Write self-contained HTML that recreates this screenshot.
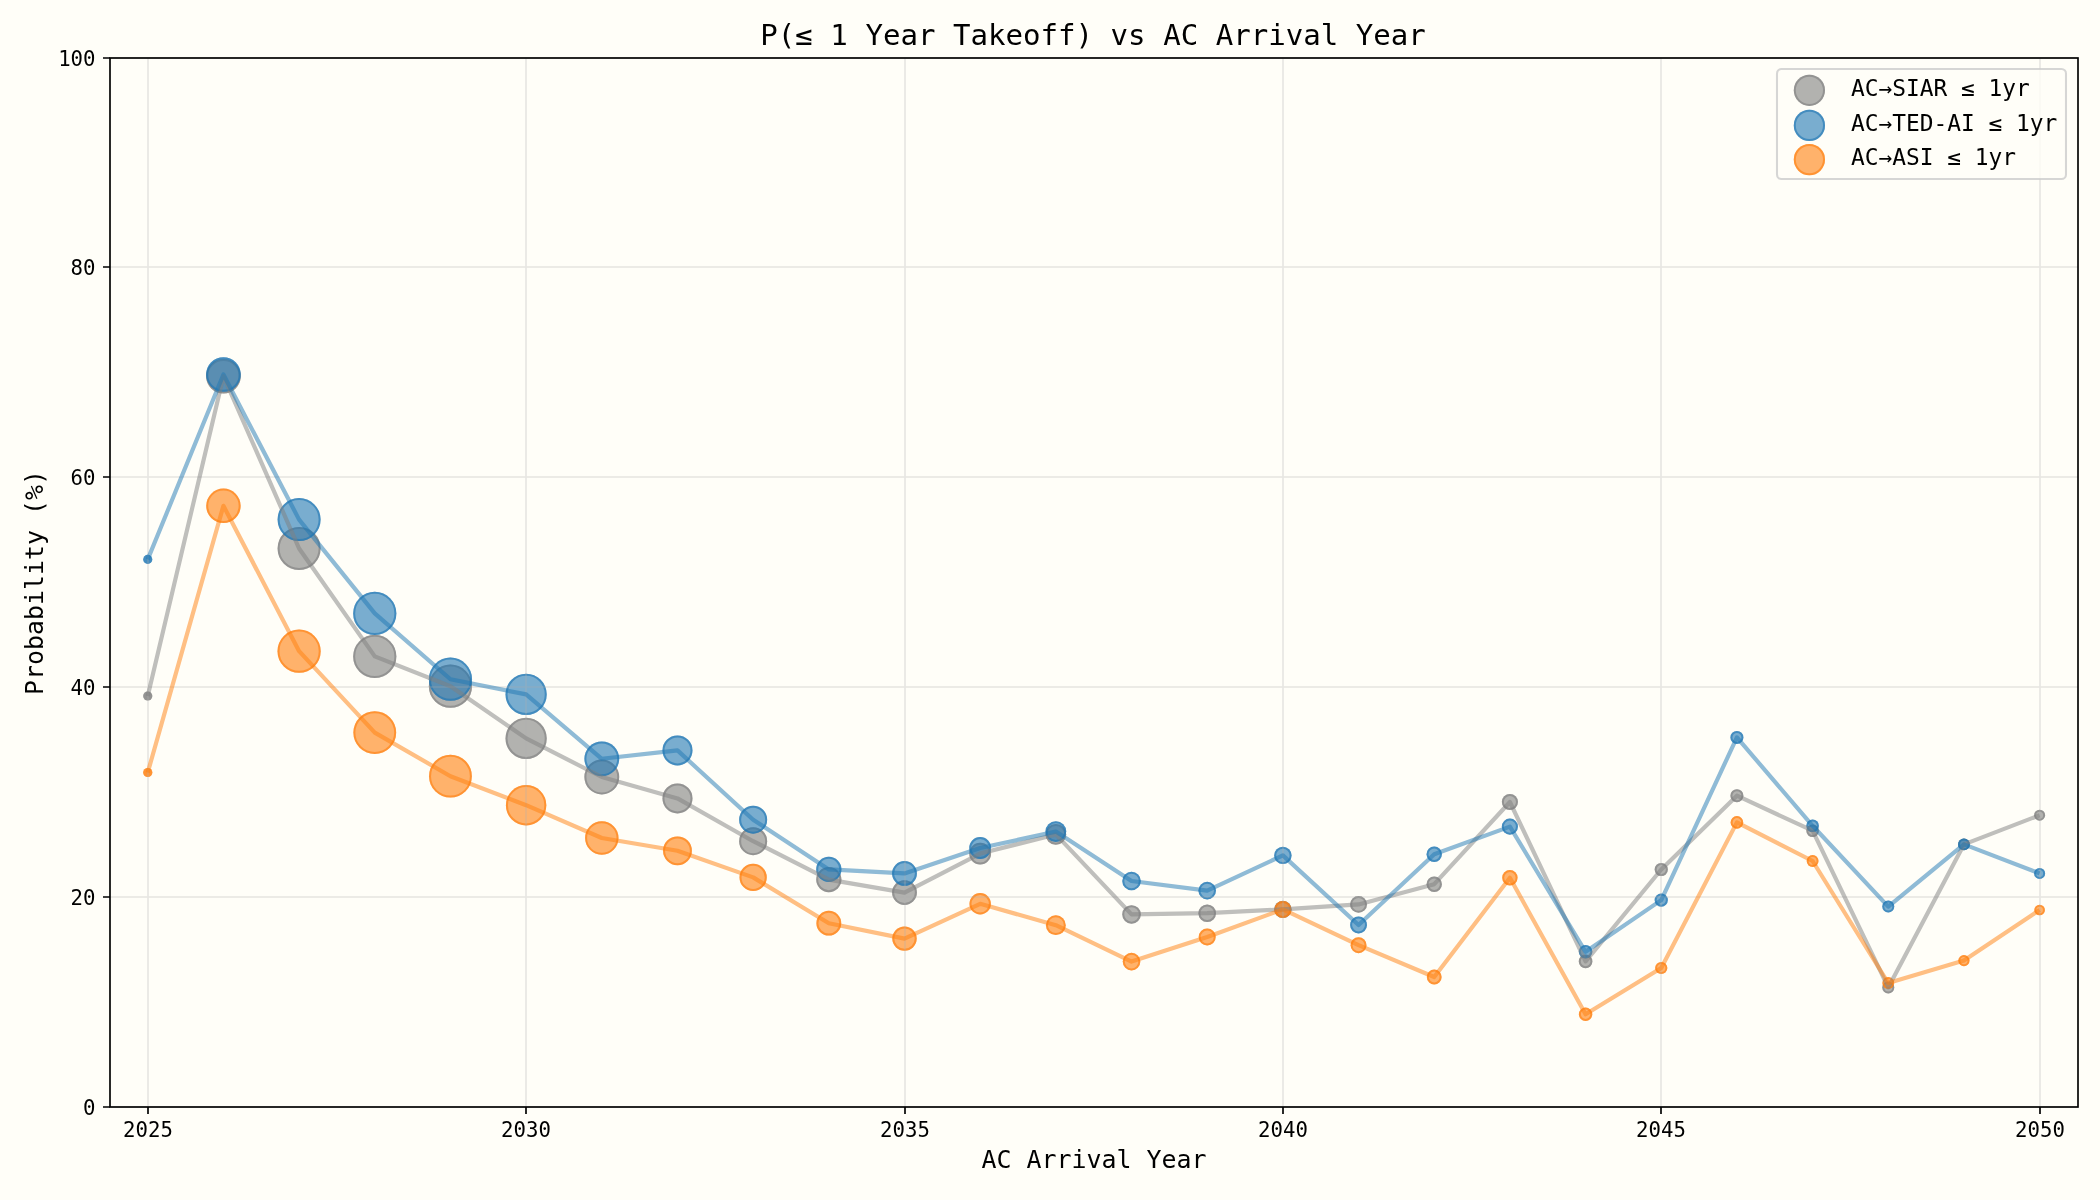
<!DOCTYPE html>
<html lang="en"><head><meta charset="utf-8"><title>P(≤ 1 Year Takeoff) vs AC Arrival Year</title>
<style>html,body{margin:0;padding:0;background:#fffef8;}body{width:2100px;height:1200px;overflow:hidden;}svg{display:block;will-change:transform;}text{font-family:"DejaVu Sans Mono","Liberation Mono",monospace;fill:#000;}</style>
</head><body>
<svg width="2100" height="1200" viewBox="0 0 2100 1200">
<rect x="0" y="0" width="2100" height="1200" fill="#fffef8"/>
<clipPath id="c"><rect x="110.00" y="58.00" width="1968.00" height="1049.00"/></clipPath>
<g clip-path="url(#c)">
<g fill="#7f7f7f" fill-opacity="0.6">
<circle cx="147.75" cy="696.00" r="4.55"/>
<circle cx="223.43" cy="376.20" r="17.30"/>
<circle cx="299.10" cy="548.50" r="21.50"/>
<circle cx="374.77" cy="656.40" r="21.60"/>
<circle cx="450.45" cy="686.20" r="21.60"/>
<circle cx="526.12" cy="738.40" r="20.60"/>
<circle cx="601.80" cy="777.00" r="17.40"/>
<circle cx="677.48" cy="798.40" r="15.00"/>
<circle cx="753.15" cy="841.20" r="14.00"/>
<circle cx="828.82" cy="879.60" r="12.60"/>
<circle cx="904.50" cy="892.60" r="12.40"/>
<circle cx="980.17" cy="853.60" r="10.90"/>
<circle cx="1055.85" cy="834.40" r="10.40"/>
<circle cx="1131.53" cy="914.40" r="9.27"/>
<circle cx="1207.20" cy="913.20" r="8.80"/>
<circle cx="1282.88" cy="909.40" r="8.71"/>
<circle cx="1358.55" cy="904.40" r="8.43"/>
<circle cx="1434.22" cy="884.20" r="7.68"/>
<circle cx="1509.90" cy="802.00" r="8.05"/>
<circle cx="1585.58" cy="961.40" r="6.80"/>
<circle cx="1661.25" cy="869.50" r="6.60"/>
<circle cx="1736.92" cy="795.70" r="6.50"/>
<circle cx="1812.60" cy="830.70" r="6.30"/>
<circle cx="1888.27" cy="987.40" r="6.00"/>
<circle cx="1963.95" cy="844.40" r="5.90"/>
<circle cx="2039.62" cy="815.20" r="5.50"/>
</g>
<g fill="none" stroke="#7f7f7f" stroke-opacity="0.6" stroke-width="2.000">
<circle cx="223.43" cy="376.20" r="16.30"/>
<circle cx="299.10" cy="548.50" r="20.50"/>
<circle cx="374.77" cy="656.40" r="20.60"/>
<circle cx="450.45" cy="686.20" r="20.60"/>
<circle cx="526.12" cy="738.40" r="19.60"/>
<circle cx="601.80" cy="777.00" r="16.40"/>
<circle cx="677.48" cy="798.40" r="14.00"/>
<circle cx="753.15" cy="841.20" r="13.00"/>
<circle cx="828.82" cy="879.60" r="11.60"/>
<circle cx="904.50" cy="892.60" r="11.40"/>
<circle cx="980.17" cy="853.60" r="9.90"/>
<circle cx="1055.85" cy="834.40" r="9.40"/>
<circle cx="1131.53" cy="914.40" r="8.27"/>
<circle cx="1207.20" cy="913.20" r="7.80"/>
<circle cx="1282.88" cy="909.40" r="7.71"/>
<circle cx="1358.55" cy="904.40" r="7.43"/>
<circle cx="1434.22" cy="884.20" r="6.68"/>
<circle cx="1509.90" cy="802.00" r="7.05"/>
<circle cx="1585.58" cy="961.40" r="5.80"/>
<circle cx="1661.25" cy="869.50" r="5.60"/>
<circle cx="1736.92" cy="795.70" r="5.50"/>
<circle cx="1812.60" cy="830.70" r="5.30"/>
<circle cx="1888.27" cy="987.40" r="5.00"/>
<circle cx="1963.95" cy="844.40" r="4.90"/>
<circle cx="2039.62" cy="815.20" r="4.50"/>
</g>
<circle cx="147.75" cy="696.00" r="4.55" fill="#7f7f7f" fill-opacity="0.6"/>
<g fill="#1f77b4" fill-opacity="0.6">
<circle cx="147.75" cy="559.40" r="4.55"/>
<circle cx="223.43" cy="374.50" r="17.30"/>
<circle cx="299.10" cy="519.60" r="21.50"/>
<circle cx="374.77" cy="613.40" r="21.60"/>
<circle cx="450.45" cy="679.20" r="21.60"/>
<circle cx="526.12" cy="694.40" r="20.60"/>
<circle cx="601.80" cy="758.80" r="17.40"/>
<circle cx="677.48" cy="750.40" r="15.00"/>
<circle cx="753.15" cy="819.70" r="14.00"/>
<circle cx="828.82" cy="869.40" r="12.60"/>
<circle cx="904.50" cy="873.40" r="12.40"/>
<circle cx="980.17" cy="848.00" r="10.90"/>
<circle cx="1055.85" cy="831.60" r="10.40"/>
<circle cx="1131.53" cy="881.00" r="9.27"/>
<circle cx="1207.20" cy="890.60" r="8.80"/>
<circle cx="1282.88" cy="855.40" r="8.71"/>
<circle cx="1358.55" cy="925.00" r="8.43"/>
<circle cx="1434.22" cy="854.20" r="7.68"/>
<circle cx="1509.90" cy="826.60" r="8.05"/>
<circle cx="1585.58" cy="951.80" r="6.80"/>
<circle cx="1661.25" cy="900.10" r="6.60"/>
<circle cx="1736.92" cy="737.40" r="6.50"/>
<circle cx="1812.60" cy="825.80" r="6.30"/>
<circle cx="1888.27" cy="906.60" r="6.00"/>
<circle cx="1963.95" cy="844.40" r="5.90"/>
<circle cx="2039.62" cy="873.40" r="5.50"/>
</g>
<g fill="none" stroke="#1f77b4" stroke-opacity="0.6" stroke-width="2.000">
<circle cx="223.43" cy="374.50" r="16.30"/>
<circle cx="299.10" cy="519.60" r="20.50"/>
<circle cx="374.77" cy="613.40" r="20.60"/>
<circle cx="450.45" cy="679.20" r="20.60"/>
<circle cx="526.12" cy="694.40" r="19.60"/>
<circle cx="601.80" cy="758.80" r="16.40"/>
<circle cx="677.48" cy="750.40" r="14.00"/>
<circle cx="753.15" cy="819.70" r="13.00"/>
<circle cx="828.82" cy="869.40" r="11.60"/>
<circle cx="904.50" cy="873.40" r="11.40"/>
<circle cx="980.17" cy="848.00" r="9.90"/>
<circle cx="1055.85" cy="831.60" r="9.40"/>
<circle cx="1131.53" cy="881.00" r="8.27"/>
<circle cx="1207.20" cy="890.60" r="7.80"/>
<circle cx="1282.88" cy="855.40" r="7.71"/>
<circle cx="1358.55" cy="925.00" r="7.43"/>
<circle cx="1434.22" cy="854.20" r="6.68"/>
<circle cx="1509.90" cy="826.60" r="7.05"/>
<circle cx="1585.58" cy="951.80" r="5.80"/>
<circle cx="1661.25" cy="900.10" r="5.60"/>
<circle cx="1736.92" cy="737.40" r="5.50"/>
<circle cx="1812.60" cy="825.80" r="5.30"/>
<circle cx="1888.27" cy="906.60" r="5.00"/>
<circle cx="1963.95" cy="844.40" r="4.90"/>
<circle cx="2039.62" cy="873.40" r="4.50"/>
</g>
<circle cx="147.75" cy="559.40" r="4.55" fill="#1f77b4" fill-opacity="0.6"/>
<g fill="#ff7f0e" fill-opacity="0.6">
<circle cx="147.75" cy="772.50" r="4.60"/>
<circle cx="223.43" cy="505.80" r="17.20"/>
<circle cx="299.10" cy="651.20" r="21.60"/>
<circle cx="374.77" cy="732.60" r="21.40"/>
<circle cx="450.45" cy="776.20" r="21.40"/>
<circle cx="526.12" cy="805.20" r="20.20"/>
<circle cx="601.80" cy="838.00" r="16.70"/>
<circle cx="677.48" cy="850.80" r="14.40"/>
<circle cx="753.15" cy="877.40" r="13.60"/>
<circle cx="828.82" cy="923.20" r="12.40"/>
<circle cx="904.50" cy="938.60" r="12.20"/>
<circle cx="980.17" cy="903.80" r="10.70"/>
<circle cx="1055.85" cy="925.20" r="9.92"/>
<circle cx="1131.53" cy="961.60" r="8.80"/>
<circle cx="1207.20" cy="937.00" r="8.52"/>
<circle cx="1282.88" cy="909.40" r="8.52"/>
<circle cx="1358.55" cy="945.20" r="7.96"/>
<circle cx="1434.22" cy="977.00" r="7.40"/>
<circle cx="1509.90" cy="877.80" r="7.68"/>
<circle cx="1585.58" cy="1014.20" r="6.70"/>
<circle cx="1661.25" cy="968.00" r="6.10"/>
<circle cx="1736.92" cy="822.40" r="6.30"/>
<circle cx="1812.60" cy="861.00" r="5.90"/>
<circle cx="1888.27" cy="983.00" r="5.90"/>
<circle cx="1963.95" cy="960.60" r="5.60"/>
<circle cx="2039.62" cy="910.00" r="5.30"/>
</g>
<g fill="none" stroke="#ff7f0e" stroke-opacity="0.6" stroke-width="2.000">
<circle cx="223.43" cy="505.80" r="16.20"/>
<circle cx="299.10" cy="651.20" r="20.60"/>
<circle cx="374.77" cy="732.60" r="20.40"/>
<circle cx="450.45" cy="776.20" r="20.40"/>
<circle cx="526.12" cy="805.20" r="19.20"/>
<circle cx="601.80" cy="838.00" r="15.70"/>
<circle cx="677.48" cy="850.80" r="13.40"/>
<circle cx="753.15" cy="877.40" r="12.60"/>
<circle cx="828.82" cy="923.20" r="11.40"/>
<circle cx="904.50" cy="938.60" r="11.20"/>
<circle cx="980.17" cy="903.80" r="9.70"/>
<circle cx="1055.85" cy="925.20" r="8.92"/>
<circle cx="1131.53" cy="961.60" r="7.80"/>
<circle cx="1207.20" cy="937.00" r="7.52"/>
<circle cx="1282.88" cy="909.40" r="7.52"/>
<circle cx="1358.55" cy="945.20" r="6.96"/>
<circle cx="1434.22" cy="977.00" r="6.40"/>
<circle cx="1509.90" cy="877.80" r="6.68"/>
<circle cx="1585.58" cy="1014.20" r="5.70"/>
<circle cx="1661.25" cy="968.00" r="5.10"/>
<circle cx="1736.92" cy="822.40" r="5.30"/>
<circle cx="1812.60" cy="861.00" r="4.90"/>
<circle cx="1888.27" cy="983.00" r="4.90"/>
<circle cx="1963.95" cy="960.60" r="4.60"/>
<circle cx="2039.62" cy="910.00" r="4.30"/>
</g>
<circle cx="147.75" cy="772.50" r="4.60" fill="#ff7f0e" fill-opacity="0.6"/>
</g>
<path d="M148.00 58.00V1107.00M526.00 58.00V1107.00M905.00 58.00V1107.00M1283.00 58.00V1107.00M1661.00 58.00V1107.00M2040.00 58.00V1107.00M110.00 1107.00H2078.00M110.00 897.00H2078.00M110.00 687.00H2078.00M110.00 477.00H2078.00M110.00 267.00H2078.00M110.00 58.00H2078.00" stroke="#b0b0b0" stroke-opacity="0.3" stroke-width="1.67" fill="none"/>
<g clip-path="url(#c)" fill="none" stroke-opacity="0.5" stroke-width="4.17" stroke-linejoin="round" stroke-linecap="butt">
<polyline points="147.75,696.00 223.43,376.20 299.10,548.50 374.77,656.40 450.45,686.20 526.12,738.40 601.80,777.00 677.48,798.40 753.15,841.20 828.82,879.60 904.50,892.60 980.17,853.60 1055.85,834.40 1131.53,914.40 1207.20,913.20 1282.88,909.40 1358.55,904.40 1434.22,884.20 1509.90,802.00 1585.58,961.40 1661.25,869.50 1736.92,795.70 1812.60,830.70 1888.27,987.40 1963.95,844.40 2039.62,815.20" stroke="#7f7f7f"/>
<polyline points="147.75,559.40 223.43,374.50 299.10,519.60 374.77,613.40 450.45,679.20 526.12,694.40 601.80,758.80 677.48,750.40 753.15,819.70 828.82,869.40 904.50,873.40 980.17,848.00 1055.85,831.60 1131.53,881.00 1207.20,890.60 1282.88,855.40 1358.55,925.00 1434.22,854.20 1509.90,826.60 1585.58,951.80 1661.25,900.10 1736.92,737.40 1812.60,825.80 1888.27,906.60 1963.95,844.40 2039.62,873.40" stroke="#1f77b4"/>
<polyline points="147.75,772.50 223.43,505.80 299.10,651.20 374.77,732.60 450.45,776.20 526.12,805.20 601.80,838.00 677.48,850.80 753.15,877.40 828.82,923.20 904.50,938.60 980.17,903.80 1055.85,925.20 1131.53,961.60 1207.20,937.00 1282.88,909.40 1358.55,945.20 1434.22,977.00 1509.90,877.80 1585.58,1014.20 1661.25,968.00 1736.92,822.40 1812.60,861.00 1888.27,983.00 1963.95,960.60 2039.62,910.00" stroke="#ff7f0e"/>
</g>
<rect x="110.00" y="58.00" width="1968.00" height="1049.00" fill="none" stroke="#000" stroke-width="1.67"/>
<path d="M148.00 1107.00v7M526.00 1107.00v7M905.00 1107.00v7M1283.00 1107.00v7M1661.00 1107.00v7M2040.00 1107.00v7M110.00 1107.00h-7M110.00 897.00h-7M110.00 687.00h-7M110.00 477.00h-7M110.00 267.00h-7M110.00 58.00h-7" stroke="#000" stroke-width="1.67" fill="none"/>
<g font-size="20.7px">
<text x="148.00" y="1137.1" text-anchor="middle">2025</text>
<text x="526.00" y="1137.1" text-anchor="middle">2030</text>
<text x="905.00" y="1137.1" text-anchor="middle">2035</text>
<text x="1283.00" y="1137.1" text-anchor="middle">2040</text>
<text x="1661.00" y="1137.1" text-anchor="middle">2045</text>
<text x="2040.00" y="1137.1" text-anchor="middle">2050</text>
<text x="95.5" y="1114.60" text-anchor="end">0</text>
<text x="95.5" y="904.60" text-anchor="end">20</text>
<text x="95.5" y="694.60" text-anchor="end">40</text>
<text x="95.5" y="484.60" text-anchor="end">60</text>
<text x="95.5" y="274.60" text-anchor="end">80</text>
<text x="95.5" y="65.60" text-anchor="end">100</text>
</g>
<text x="1093.10" y="44.85" text-anchor="middle" font-size="29.1px">P(≤ 1 Year Takeoff) vs AC Arrival Year</text>
<text x="1094.00" y="1168" text-anchor="middle" font-size="24.9px">AC Arrival Year</text>
<text transform="translate(42.8 582.50) rotate(-90)" text-anchor="middle" font-size="24.9px">Probability (%)</text>
<rect x="1777" y="69" width="289" height="110" rx="4.6" ry="4.6" fill="#fffef8" fill-opacity="0.8" stroke="#cccccc" stroke-opacity="0.8" stroke-width="2.08"/>
<circle cx="1809.4" cy="90.30" r="15.60" fill="#7f7f7f" fill-opacity="0.6"/>
<circle cx="1809.4" cy="90.30" r="14.60" fill="none" stroke="#7f7f7f" stroke-opacity="0.6" stroke-width="2.000"/>
<text x="1850.9" y="96.00" font-size="22.85px">AC→SIAR ≤ 1yr</text>
<circle cx="1809.4" cy="125.40" r="15.60" fill="#1f77b4" fill-opacity="0.6"/>
<circle cx="1809.4" cy="125.40" r="14.60" fill="none" stroke="#1f77b4" stroke-opacity="0.6" stroke-width="2.000"/>
<text x="1850.9" y="131.10" font-size="22.85px">AC→TED-AI ≤ 1yr</text>
<circle cx="1809.4" cy="159.60" r="15.60" fill="#ff7f0e" fill-opacity="0.6"/>
<circle cx="1809.4" cy="159.60" r="14.60" fill="none" stroke="#ff7f0e" stroke-opacity="0.6" stroke-width="2.000"/>
<text x="1850.9" y="165.30" font-size="22.85px">AC→ASI ≤ 1yr</text>
</svg></body></html>
